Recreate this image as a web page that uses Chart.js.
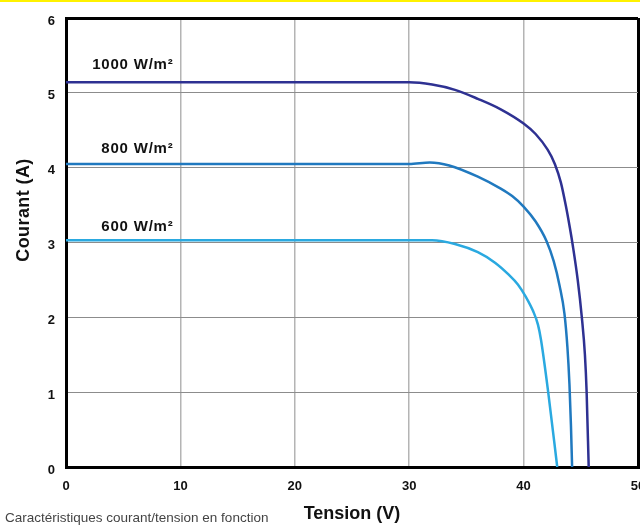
<!DOCTYPE html>
<html>
<head>
<meta charset="utf-8">
<script src="https://cdn.jsdelivr.net/npm/chart.js@4.4.1/dist/chart.umd.min.js"></script>
<style>
  html, body { margin: 0; padding: 0; background: #fff; overflow: hidden; }
  #wrap { position: relative; width: 640px; height: 525px; }
  #bandeau { position: absolute; left: 0; top: 0; width: 640px; height: 2px; background: #fff200; }
</style>
</head>
<body>
<div id="wrap">
  <canvas id="graphique"></canvas>
  <div id="bandeau"></div>
</div>
<script>
// Courbes I/V (tension en V, courant en A)
const tension1000 = [0, 30, 32, 34, 36, 38, 40, 41.05, 42.1, 42.73, 43.26, 43.68, 44.04, 44.31, 44.73, 45.09, 45.36, 45.51, 45.69];
const courant1000 = [5.14, 5.14, 5.11, 5.04, 4.92, 4.78, 4.59, 4.45, 4.24, 4.05, 3.80, 3.50, 3.20, 2.95, 2.50, 2.00, 1.50, 1.00, 0];

const tension800 = [0, 30, 31.8, 33.5, 36, 38, 39, 40, 41.05, 42.0, 42.63, 43.15, 43.57, 43.83, 44.01, 44.14, 44.24];
const courant800 = [4.05, 4.05, 4.07, 4.03, 3.88, 3.72, 3.62, 3.48, 3.28, 3.02, 2.75, 2.42, 2.05, 1.60, 1.10, 0.55, 0];

const tension600 = [0, 32, 34, 36, 37.5, 38.7, 39.5, 40.21, 40.84, 41.26, 41.52, 42.15, 42.94];
const courant600 = [3.03, 3.03, 2.98, 2.87, 2.73, 2.57, 2.44, 2.27, 2.08, 1.90, 1.70, 1.00, 0];

const etiquettes = ['1000 W/m²', '800 W/m²', '600 W/m²'];
const ticksTension = [0, 10, 20, 30, 40, 50];
const ticksCourant = [0, 1, 2, 3, 4, 5, 6];

const couleurs = ['#2e3192', '#2079bf', '#2aa9e0'];

const versPoints = (xs, ys) => xs.map((x, i) => ({ x, y: ys[i] }));

const series = [
  versPoints(tension1000, courant1000),
  versPoints(tension800, courant800),
  versPoints(tension600, courant600),
];

const police = '"Liberation Sans", Arial, sans-serif';

// Textes ajoutés : étiquettes des courbes, titre vertical, légende du bas
const textes = {
  id: 'textes',
  afterDatasetsDraw(chart) {
    const { ctx, scales: { x, y } } = chart;
    ctx.save();
    ctx.fillStyle = '#111';
    ctx.font = 'bold 15px ' + police;
    ctx.letterSpacing = '0.8px';
    ctx.textAlign = 'right';
    ctx.textBaseline = 'middle';
    const decalages = [17, 15, 13];
    series.forEach((pts, i) => {
      ctx.fillText(etiquettes[i], x.getPixelForValue(9.4), y.getPixelForValue(pts[0].y) - decalages[i]);
    });

    // titre de l'axe vertical
    ctx.save();
    ctx.translate(24, 210);
    ctx.rotate(-Math.PI / 2);
    ctx.textAlign = 'center';
    ctx.letterSpacing = '0.4px';
    ctx.font = 'bold 18px ' + police;
    ctx.fillText('Courant (A)', 0, 0);
    ctx.restore();

    // légende en bas à gauche
    ctx.textAlign = 'left';
    ctx.letterSpacing = '0px';
    ctx.fillStyle = '#444';
    ctx.font = '13.5px ' + police;
    ctx.fillText('Caractéristiques courant/tension en fonction', 5, 518);
    ctx.restore();
  }
};

const couleurGrille = (val, max, base) => (val === 0 || val === max) ? '#000' : base;
const largeurGrille = (val, max, base) => (val === 0 || val === max) ? 3 : base;

new Chart(document.getElementById('graphique'), {
  type: 'scatter',
  data: {
    datasets: series.map((pts, i) => ({
      label: etiquettes[i],
      data: pts,
      showLine: true,
      borderColor: couleurs[i],
      borderWidth: 2.5,
      pointRadius: 0,
      cubicInterpolationMode: 'monotone',
      fill: false,
    })),
  },
  options: {
    responsive: true,
    maintainAspectRatio: false,
    animation: false,
    layout: { padding: { top: 18, right: 2, left: 0, bottom: 0 } },
    plugins: { legend: { display: false }, tooltip: { enabled: false } },
    scales: {
      x: {
        type: 'linear',
        min: 0,
        max: 50,
        afterBuildTicks: (s) => { s.ticks = ticksTension.map(v => ({ value: v })); },
        afterFit: (s) => { s.paddingRight = 0; s.height = 58; },
        grid: {
          drawTicks: false,
          color: (c) => couleurGrille(c.tick.value, 50, '#b4b4b4'),
          lineWidth: (c) => largeurGrille(c.tick.value, 50, 1.5),
        },
        border: { color: '#000', width: 3 },
        ticks: {
          padding: 12,
          color: '#111',
          font: { family: police, size: 13, weight: 'bold' },
        },
        title: {
          display: true,
          text: 'Tension (V)',
          color: '#111',
          padding: { top: 11, bottom: 0 },
          font: { family: police, size: 18, weight: 'bold' },
        },
      },
      y: {
        type: 'linear',
        min: 0,
        max: 6,
        afterBuildTicks: (s) => { s.ticks = ticksCourant.map(v => ({ value: v })); },
        afterFit: (s) => { s.width = 66; s.paddingTop = 0; },
        grid: {
          drawTicks: false,
          color: (c) => couleurGrille(c.tick.value, 6, '#8c8c8c'),
          lineWidth: (c) => largeurGrille(c.tick.value, 6, 1),
        },
        border: { color: '#000', width: 3 },
        ticks: {
          padding: 11,
          labelOffset: 3,
          color: '#111',
          font: { family: police, size: 13, weight: 'bold' },
        },
      },
    },
  },
  plugins: [textes],
});
</script>
</body>
</html>
